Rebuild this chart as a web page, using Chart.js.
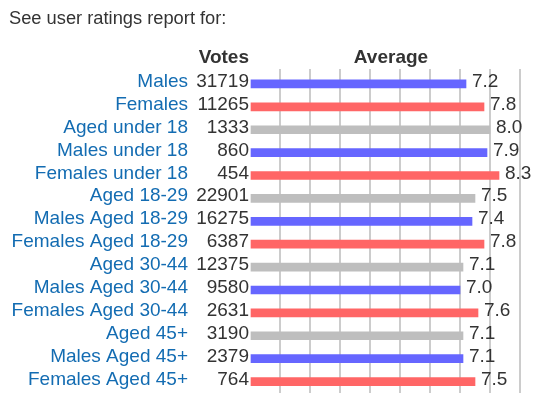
<!DOCTYPE html>
<html>
<head>
<meta charset="utf-8">
<script src="https://cdn.jsdelivr.net/npm/chart.js@4/dist/chart.umd.min.js"></script>
<style>
html,body{margin:0;padding:0;background:#fff;}
#wrap{position:relative;width:556px;height:393px;}
</style>
</head>
<body>
<div id="wrap"><canvas id="c"></canvas></div>
<script>
const categories = ["Males","Females","Aged under 18","Males under 18","Females under 18","Aged 18-29","Males Aged 18-29","Females Aged 18-29","Aged 30-44","Males Aged 30-44","Females Aged 30-44","Aged 45+","Males Aged 45+","Females Aged 45+"];
const votes = [31719,11265,1333,860,454,22901,16275,6387,12375,9580,2631,3190,2379,764];
const averages = [7.2,7.8,8.0,7.9,8.3,7.5,7.4,7.8,7.1,7.0,7.6,7.1,7.1,7.5];
const groups = ["male","female","all","male","female","all","male","female","all","male","female","all","male","female"];
const titleText = "See user ratings report for:";
const votesHeader = "Votes";
const averageHeader = "Average";

const groupColors = {male:"#6666ff", female:"#ff6666", all:"#bebebe"};
const FONT = "Arial, 'Liberation Sans', sans-serif";

const textPlugin = {
  id: "texts",
  afterDatasetsDraw(chart) {
    const ctx = chart.ctx;
    const xs = chart.scales.x, ys = chart.scales.y;
    ctx.save();
    ctx.textBaseline = "alphabetic";
    ctx.font = "18.3px " + FONT;
    ctx.fillStyle = "#333333";
    ctx.textAlign = "left";
    ctx.fillText(titleText, 9, 24);
    ctx.font = "bold 19px " + FONT;
    ctx.textAlign = "right";
    ctx.fillText(votesHeader, 249, 63);
    ctx.textAlign = "center";
    ctx.fillText(averageHeader, 391, 63);
    ctx.font = "19px " + FONT;
    categories.forEach((cat, i) => {
      const y = ys.getPixelForValue(i) + 3;
      ctx.textAlign = "right";
      ctx.fillStyle = "#136cb2";
      ctx.fillText(cat, 188, y);
      ctx.fillStyle = "#333333";
      ctx.fillText(String(votes[i]), 249, y);
      ctx.textAlign = "left";
      ctx.fillText(averages[i].toFixed(1), xs.getPixelForValue(averages[i]) + 6, y);
    });
    ctx.restore();
  }
};

new Chart(document.getElementById("c"), {
  type: "bar",
  data: {
    labels: categories,
    datasets: [{
      data: averages,
      backgroundColor: groups.map(g => groupColors[g]),
      barThickness: 8,
      borderWidth: 0
    }]
  },
  options: {
    indexAxis: "y",
    responsive: true,
    maintainAspectRatio: false,
    animation: false,
    devicePixelRatio: 1,
    layout: {padding: {left: 250, right: 21, top: 69, bottom: -1.5}},
    plugins: {legend: {display: false}, tooltip: {enabled: false}},
    scales: {
      x: {
        position: "top",
        min: 0,
        max: 9.5,
        ticks: {display: false, stepSize: 1, includeBounds: false},
        border: {display: false},
        grid: {
          drawTicks: true,
          tickLength: 3.5,
          lineWidth: 2,
          color: c => (c.tick && Number.isInteger(c.tick.value) && c.tick.value > 0) ? "#cccccc" : "rgba(0,0,0,0)"
        }
      },
      y: {
        display: false,
        offset: true
      }
    }
  },
  plugins: [textPlugin]
});
</script>
</body>
</html>
